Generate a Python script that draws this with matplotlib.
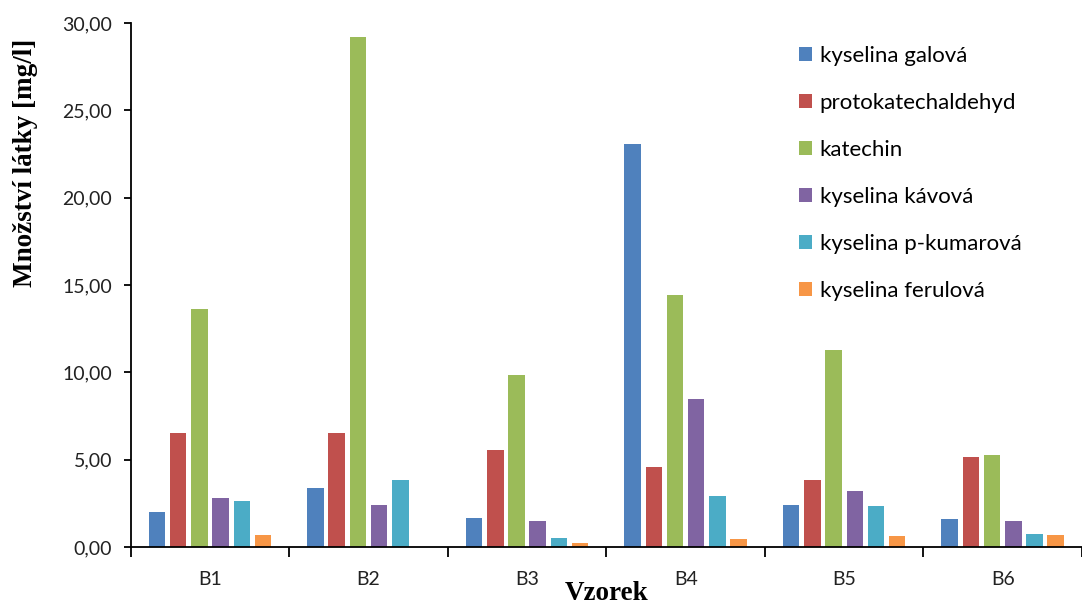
import numpy as np
import matplotlib.pyplot as plt
from matplotlib.ticker import FuncFormatter, FixedLocator

samples = ['B1', 'B2', 'B3', 'B4', 'B5', 'B6']
compounds = ['kyselina galová', 'protokatechaldehyd', 'katechin',
             'kyselina kávová', 'kyselina p-kumarová', 'kyselina ferulová']

galova = [2.00, 3.40, 1.65, 23.10, 2.38, 1.60]
protokatechaldehyd = [6.54, 6.50, 5.56, 4.60, 3.83, 5.17]
katechin = [13.65, 29.22, 9.83, 14.44, 11.25, 5.29]
kavova = [2.79, 2.38, 1.46, 8.46, 3.23, 1.48]
kumarova = [2.63, 3.85, 0.50, 2.90, 2.35, 0.75]
ferulova = [0.71, 0.00, 0.25, 0.44, 0.63, 0.67]

series = [galova, protokatechaldehyd, katechin, kavova, kumarova, ferulova]
colors = ['#4F81BD', '#C0504D', '#9BBB59', '#8064A2', '#4BACC6', '#F79646']

fig = plt.figure(figsize=(10.82, 6.05), dpi=100)
ax = fig.add_axes([0.1208, 0.0959, 0.8792, 0.8661])

x = np.arange(len(samples))
pitch = 0.1337
width = 0.104
for i, (vals, col, name) in enumerate(zip(series, colors, compounds)):
    offs = (i - (len(series) - 1) / 2) * pitch
    ax.bar(x + offs, vals, width=width, color=col, label=name, linewidth=0)

ax.set_xlim(-0.5, 5.5)
ax.set_ylim(0, 30)

ax.spines['top'].set_visible(False)
ax.spines['right'].set_visible(False)
ax.spines['left'].set_linewidth(1.3)
ax.spines['bottom'].set_linewidth(1.3)

# y axis: comma decimals
ax.set_yticks(np.arange(0, 31, 5))
ax.yaxis.set_major_formatter(FuncFormatter(lambda v, p: f"{v:.2f}".replace('.', ',')))
ax.tick_params(axis='y', direction='out', length=5, width=1.3, pad=8.5,
               labelsize=14, labelcolor='#222222')
for lab in ax.get_yticklabels():
    lab.set_family('Lato')

# x axis: ticks at group boundaries, labels at centres
ax.xaxis.set_major_locator(FixedLocator(np.arange(-0.5, 6.0, 1.0)))
ax.xaxis.set_minor_locator(FixedLocator(x))
ax.xaxis.set_major_formatter(FuncFormatter(lambda v, p: ''))
ax.set_xticks(x, samples, minor=True)
ax.tick_params(axis='x', which='major', direction='out', length=7, width=1.3)
ax.tick_params(axis='x', which='minor', length=0, pad=17, labelsize=14,
               labelcolor='#222222')
for lab in ax.get_xticklabels(minor=True):
    lab.set_family('Lato')

ax.set_ylabel('Množství látky [mg/l]', family='Liberation Serif',
              fontweight='bold', fontsize=19.5)
ax.yaxis.set_label_coords(-0.097, 0.733)
ax.set_xlabel('Vzorek', family='Liberation Serif', fontweight='bold',
              fontsize=19.5, labelpad=-4.5)

ax.legend(loc='upper left', bbox_to_anchor=(0.681, 0.995), frameon=False,
          prop={'family': 'Lato', 'size': 16}, handlelength=0.6,
          handleheight=0.6, handletextpad=0.35, labelspacing=1.22)

fig.savefig('out.png', dpi=100)
